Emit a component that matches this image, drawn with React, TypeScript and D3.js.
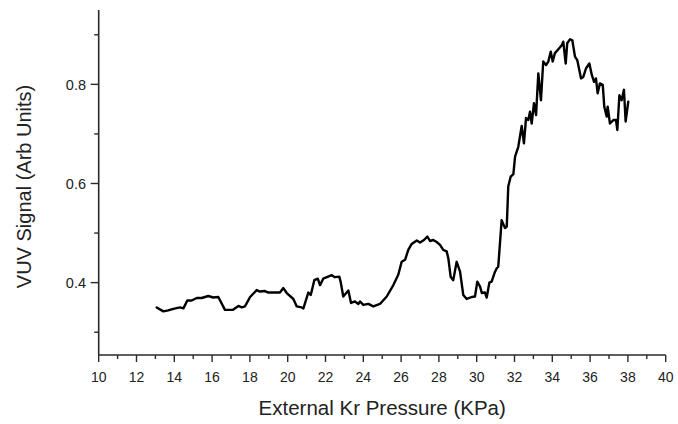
import React from "react";
import * as d3 from "d3";

// External Kr pressure (KPa) at each sample
const pressureKPa = [
  13.07, 13.42, 13.68, 13.95, 14.30, 14.48, 14.69, 14.92, 15.19, 15.45,
  15.80, 16.06, 16.33, 16.68, 17.09, 17.39, 17.57, 17.74, 18.01, 18.36,
  18.53, 18.80, 18.97, 19.59, 19.77, 19.95, 20.30, 20.48, 20.74, 20.83,
  21.09, 21.22, 21.41, 21.59, 21.71, 21.88, 22.33, 22.50, 22.73, 22.80,
  22.94, 23.21, 23.35, 23.56, 23.74, 23.83, 24.00, 24.27, 24.53, 24.88,
  25.24, 25.59, 25.85, 26.03, 26.21, 26.38, 26.56, 26.83, 27.00, 27.21,
  27.39, 27.53, 27.70, 27.88, 28.06, 28.23, 28.41, 28.50, 28.62, 28.76,
  28.94, 29.12, 29.29, 29.47, 29.74, 29.91, 30.03, 30.18, 30.27, 30.44,
  30.53, 30.67, 30.79, 30.97, 31.06, 31.14, 31.32, 31.50, 31.59, 31.67,
  31.80, 31.94, 32.03, 32.20, 32.38, 32.50, 32.61, 32.73, 32.82, 32.91,
  33.03, 33.14, 33.26, 33.40, 33.52, 33.67, 33.79, 33.92, 34.02, 34.14,
  34.32, 34.50, 34.58, 34.71, 34.79, 34.94, 35.06, 35.20, 35.32, 35.52,
  35.64, 35.78, 35.96, 36.09, 36.21, 36.31, 36.40, 36.52, 36.67, 36.75,
  36.88, 36.93, 37.05, 37.23, 37.37, 37.44, 37.55, 37.67, 37.79, 37.88, 38.02,
];

// VUV signal (arbitrary units) at each sample
const vuvSignal = [
  0.350, 0.342, 0.344, 0.347, 0.350, 0.348, 0.364, 0.364, 0.369, 0.369,
  0.373, 0.370, 0.371, 0.345, 0.345, 0.353, 0.350, 0.352, 0.371, 0.385,
  0.382, 0.383, 0.380, 0.380, 0.389, 0.379, 0.367, 0.352, 0.350, 0.348,
  0.380, 0.375, 0.405, 0.408, 0.395, 0.408, 0.415, 0.411, 0.412, 0.402,
  0.372, 0.384, 0.359, 0.362, 0.357, 0.362, 0.355, 0.357, 0.352, 0.357,
  0.372, 0.395, 0.416, 0.442, 0.446, 0.466, 0.478, 0.485, 0.481, 0.486,
  0.493, 0.484, 0.486, 0.482, 0.476, 0.466, 0.463, 0.449, 0.412, 0.405,
  0.442, 0.422, 0.375, 0.367, 0.371, 0.372, 0.402, 0.392, 0.379, 0.380,
  0.370, 0.400, 0.402, 0.422, 0.429, 0.432, 0.526, 0.510, 0.513, 0.594,
  0.614, 0.619, 0.654, 0.674, 0.716, 0.681, 0.732, 0.728, 0.745, 0.721,
  0.762, 0.738, 0.822, 0.768, 0.846, 0.839, 0.846, 0.866, 0.846, 0.863,
  0.871, 0.879, 0.886, 0.842, 0.883, 0.891, 0.889, 0.856, 0.849, 0.812,
  0.815, 0.832, 0.842, 0.819, 0.805, 0.812, 0.782, 0.802, 0.799, 0.755,
  0.735, 0.755, 0.721, 0.728, 0.728, 0.708, 0.778, 0.768, 0.789, 0.725, 0.765,
];

const xMajorTicks = [10, 12, 14, 16, 18, 20, 22, 24, 26, 28, 30, 32, 34, 36, 38, 40];
const xMinorTicks = [11, 13, 15, 17, 19, 21, 23, 25, 27, 29, 31, 33, 35, 37, 39];
const yMajorTicks = [0.4, 0.6, 0.8];
const yMinorTicks = [0.3, 0.5, 0.7, 0.9];

const xTitle = "External Kr Pressure (KPa)";
const yTitle = "VUV Signal (Arb Units)";

const W = 678;
const H = 424;
const FONT = "'Liberation Sans', Arial, sans-serif";
const AXIS = "#2a2a2a";

export default function App() {
  const x = d3.scaleLinear().domain([10, 40]).range([98.7, 665.7]);
  const y = d3.scaleLinear().domain([0.254, 0.95]).range([355, 10]);

  const points: [number, number][] = pressureKPa.map((p, i) => [p, vuvSignal[i]]);
  const line = d3
    .line<[number, number]>()
    .x((d) => x(d[0]))
    .y((d) => y(d[1]));

  const x0 = x(10);
  const yBase = y(0.254);

  return (
    <svg
      width={W}
      height={H}
      style={{ position: "absolute", left: 0, top: 0, background: "#fff" }}
      fontFamily={FONT}
    >
      <rect width={W} height={H} fill="#fff" />

      {/* data trace */}
      <path
        d={line(points) || ""}
        fill="none"
        stroke="#000"
        strokeWidth={2.4}
        strokeLinejoin="round"
        strokeLinecap="round"
      />

      {/* left axis */}
      <line x1={x0} x2={x0} y1={y(0.95)} y2={yBase} stroke={AXIS} strokeWidth={1.6} />
      {yMajorTicks.map((t) => (
        <g key={`ym${t}`}>
          <line x1={x0 - 8} x2={x0} y1={y(t)} y2={y(t)} stroke={AXIS} strokeWidth={1.4} />
          <text
            x={86}
            y={y(t)}
            dy="0.36em"
            textAnchor="end"
            fontSize={14.5}
            fill="#222"
          >
            {d3.format(".1f")(t)}
          </text>
        </g>
      ))}
      {yMinorTicks.map((t) => (
        <line key={`yn${t}`} x1={x0 - 4.5} x2={x0} y1={y(t)} y2={y(t)} stroke={AXIS} strokeWidth={1.4} />
      ))}

      {/* bottom axis */}
      <line x1={x0} x2={x(40)} y1={yBase} y2={yBase} stroke={AXIS} strokeWidth={1.6} />
      {xMajorTicks.map((t) => (
        <g key={`xm${t}`}>
          <line x1={x(t)} x2={x(t)} y1={yBase} y2={yBase + 7} stroke={AXIS} strokeWidth={1.4} />
          <text x={x(t)} y={381.5} textAnchor="middle" fontSize={14} fill="#222">
            {t}
          </text>
        </g>
      ))}
      {xMinorTicks.map((t) => (
        <line key={`xn${t}`} x1={x(t)} x2={x(t)} y1={yBase} y2={yBase + 4} stroke={AXIS} strokeWidth={1.4} />
      ))}

      {/* axis titles */}
      <text x={(x(10) + x(40)) / 2} y={415} textAnchor="middle" fontSize={20.5} fill="#222">
        {xTitle}
      </text>
      <text
        transform={`translate(31, ${(y(0.95) + yBase) / 2 + 4}) rotate(-90)`}
        textAnchor="middle"
        fontSize={20}
        fill="#222"
      >
        {yTitle}
      </text>
    </svg>
  );
}
